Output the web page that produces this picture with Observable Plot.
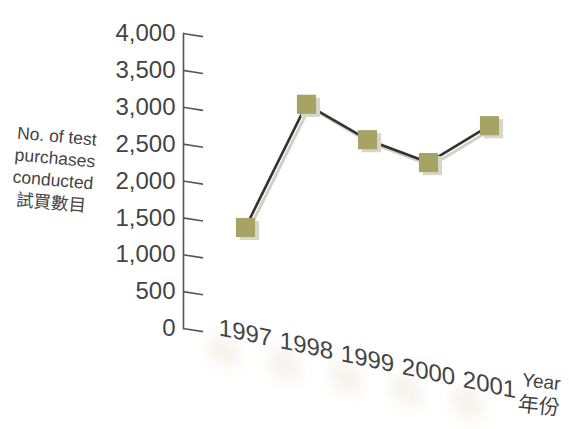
<!DOCTYPE html>
<html><head><meta charset="utf-8">
<script src="https://cdn.jsdelivr.net/npm/d3@7"></script>
<script src="https://cdn.jsdelivr.net/npm/@observablehq/plot@0.6"></script>
<style>
body{margin:0;background:#fff;}
#wrap{position:relative;width:569px;height:429px;overflow:hidden;font-family:"Liberation Sans",Arial,sans-serif;color:#444;}
#wrap svg{position:absolute;left:0;top:0;}
.ytitle{position:absolute;left:0px;top:125px;width:108px;text-align:center;font-size:17.5px;line-height:22px;transform:rotate(5deg);}
.xtitle{position:absolute;left:512px;top:371px;width:56px;text-align:center;font-size:19px;line-height:22px;transform:rotate(6deg);}
.cjk{font-family:"Noto Sans CJK TC","Noto Sans CJK SC",sans-serif;}
.xtitle .cjk{font-size:21px;}
</style></head>
<body>
<div id="wrap">
  <div class="ytitle">No. of test<br>purchases<br>conducted<br><span class="cjk">試買數目</span></div>
  <div class="xtitle">Year<br><span class="cjk">年份</span></div>
</div>
<script>
const years = ["1997", "1998", "1999", "2000", "2001"];
const purchases = [1370, 3040, 2560, 2250, 2750];
const yTicks = [0, 500, 1000, 1500, 2000, 2500, 3000, 3500, 4000];

const data = years.map((year, i) => ({year, value: purchases[i]}));

const chart = Plot.plot({
  width: 569,
  height: 429,
  marginLeft: 183,
  marginTop: 33,
  marginBottom: 101,
  marginRight: 80,
  style: {fontFamily: "'Liberation Sans', Arial, sans-serif", background: "transparent"},
  x: {type: "point", domain: years, range: [245, 489], padding: 0, label: null},
  y: {domain: [0, 4000], label: null},
  marks: [
    Plot.dot(data, {x: "year", y: 0, symbol: "square", r: 15, fill: "#efe8da", dx: -22, dy: 14}),
    Plot.frame({anchor: "left", stroke: "#555", strokeWidth: 1.6}),
    Plot.axisY({ticks: yTicks, tickSize: 0, tickPadding: 8, tickFormat: d3.format(","), fontSize: 24, fill: "#444", label: null}),
    Plot.axisY({ticks: yTicks, tickSize: -20, tickFormat: () => "", stroke: "#555", strokeWidth: 1.6, label: null}),
    Plot.axisX({tickSize: 0, tickPadding: 0, fontSize: 24, fill: "#444", dy: -18, label: null}),
    Plot.line(data, {x: "year", y: "value", stroke: "#cdd2c6", strokeWidth: 3, dx: 3, dy: 3}),
    Plot.line(data, {x: "year", y: "value", stroke: "#333", strokeWidth: 2.6}),
    Plot.dot(data, {x: "year", y: "value", symbol: "square", r: 10.8, fill: "#d3d8cb", dx: 4, dy: 3}),
    Plot.dot(data, {x: "year", y: "value", symbol: "square", r: 10.8, fill: "#a7a364"})
  ]
});

const skew = (g, pivot, t) => {
  const prev = g.getAttribute("transform") || "";
  g.setAttribute("transform", `translate(0,${-pivot * t}) matrix(1,${t},0,1,0,0) ${prev}`);
};
chart.querySelectorAll('g[aria-label="y-axis tick"]').forEach(g => skew(g, 183, Math.tan(9 * Math.PI / 180)));
chart.querySelectorAll('g[aria-label="x-axis tick label"]').forEach(g => skew(g, 183, Math.tan(12 * Math.PI / 180)));
const shadow = chart.querySelector('g[aria-label="dot"]');
if (shadow) {
  skew(shadow, 183, Math.tan(12 * Math.PI / 180));
  shadow.style.filter = "blur(8px)";
  shadow.style.opacity = "0.6";
}

document.getElementById("wrap").prepend(chart);
</script>
</body></html>
